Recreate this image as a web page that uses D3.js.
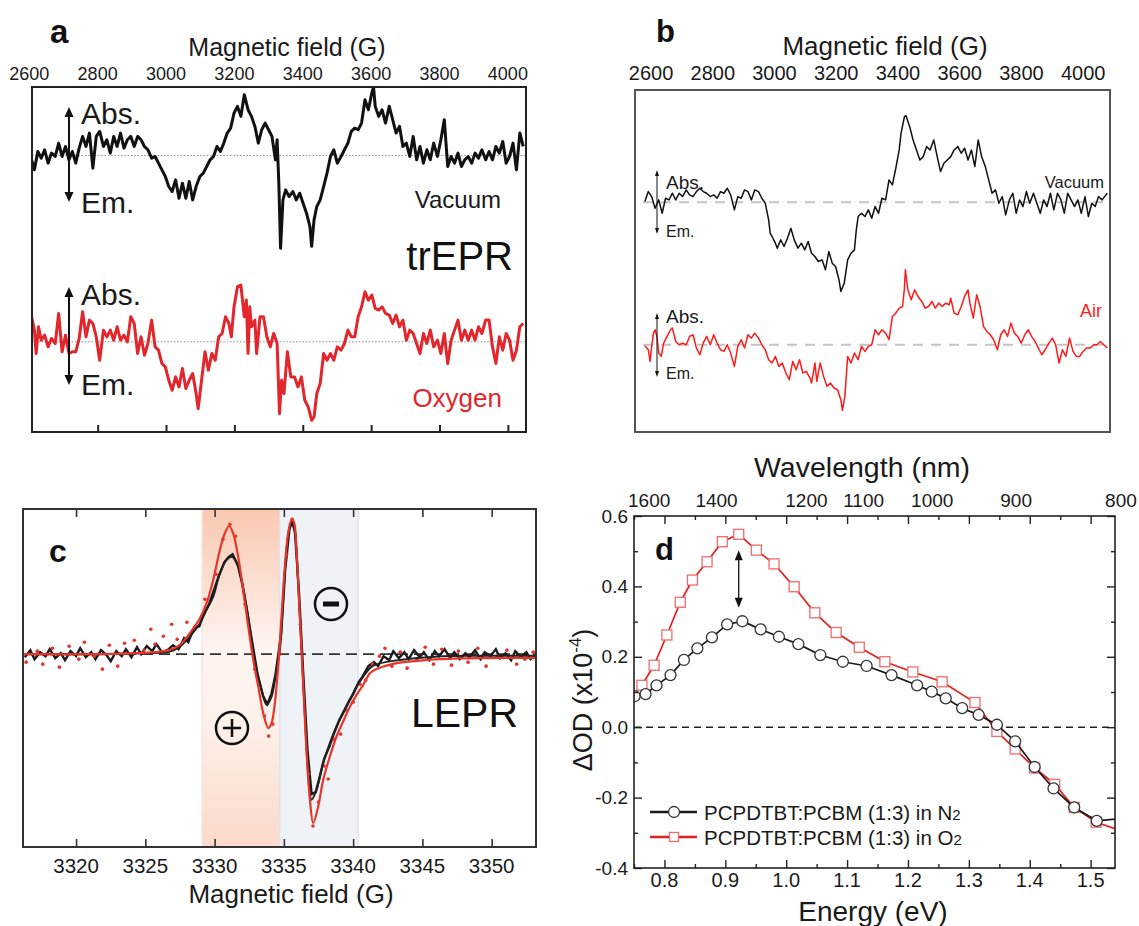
<!DOCTYPE html>
<html>
<head>
<meta charset="utf-8">
<script src="https://cdn.jsdelivr.net/npm/d3@7"></script>
<style>
  body { margin: 0; background: #fff; overflow: hidden; }
  svg { display: block; font-family: "Liberation Sans", Arial, Helvetica, sans-serif; }
</style>
</head>
<body>
<div id="chart"></div>
<script>
// ---- tick labels ----
const fieldTicksAB = [2600, 2800, 3000, 3200, 3400, 3600, 3800, 4000];
const fieldTicksC = [3320, 3325, 3330, 3335, 3340, 3345, 3350];
const energyTicks = [0.8, 0.9, 1.0, 1.1, 1.2, 1.3, 1.4, 1.5];
const energyMinor = [0.75, 0.85, 0.95, 1.05, 1.15, 1.25, 1.35, 1.45];
const wavelengthTicks = [1600, 1400, 1200, 1100, 1000, 900, 800];
const odTicks = [0.6, 0.4, 0.2, 0.0, -0.2, -0.4];
const odMinor = [0.5, 0.3, 0.1, -0.1, -0.3];

// ---- panel a: trEPR, [field G, signal a.u.] ----
const aVacuum = [[2607,-13],[2615,-43],[2625,12],[2635,-8],[2645,17],[2655,-23],[2665,7],[2676,-3],[2686,37],[2696,-3],[2706,27],[2716,-13],[2726,12],[2736,-23],[2746,22],[2756,57],[2766,27],[2776,67],[2786,-38],[2796,57],[2806,72],[2817,27],[2827,47],[2837,7],[2847,57],[2857,27],[2867,67],[2877,22],[2887,47],[2897,57],[2907,27],[2917,57],[2927,47],[2937,27],[2947,17],[2958,-8],[2968,-3],[2978,-23],[2988,-43],[2998,-63],[3008,-93],[3018,-108],[3028,-73],[3038,-128],[3048,-83],[3058,-128],[3068,-78],[3078,-133],[3088,-93],[3099,-63],[3109,-53],[3119,-33],[3129,-13],[3139,-3],[3149,27],[3159,12],[3169,37],[3179,67],[3189,82],[3199,127],[3209,147],[3219,117],[3229,182],[3240,137],[3250,117],[3260,87],[3270,37],[3280,77],[3290,97],[3300,77],[3310,57],[3320,-13],[3325,47],[3330,-83],[3335,-278],[3342,-133],[3350,-103],[3360,-123],[3371,-108],[3381,-133],[3391,-113],[3401,-143],[3411,-173],[3421,-213],[3426,-272],[3433,-193],[3441,-153],[3451,-133],[3461,-93],[3471,-53],[3481,-3],[3491,17],[3501,-23],[3512,-3],[3522,17],[3532,37],[3542,72],[3552,82],[3562,77],[3572,97],[3582,167],[3592,137],[3602,187],[3607,205],[3612,147],[3622,117],[3632,137],[3642,97],[3653,147],[3663,107],[3673,67],[3683,87],[3693,27],[3703,37],[3713,-3],[3723,57],[3733,-13],[3743,27],[3753,-23],[3763,17],[3773,-13],[3783,37],[3794,-3],[3804,47],[3814,107],[3824,-33],[3834,-3],[3844,-23],[3854,7],[3864,-33],[3874,-13],[3884,-3],[3894,-23],[3904,7],[3914,-8],[3924,17],[3935,-13],[3945,12],[3955,-13],[3965,27],[3975,7],[3985,42],[3995,-23],[4005,-3],[4015,37],[4025,-43],[4035,67],[4045,27]];
const aOxygen = [[2607,75],[2615,35],[2620,-35],[2627,45],[2635,5],[2645,20],[2655,-15],[2665,10],[2676,-5],[2686,85],[2696,-30],[2706,20],[2716,-35],[2726,-30],[2736,-30],[2746,10],[2756,90],[2766,15],[2776,65],[2786,55],[2796,15],[2806,-55],[2817,35],[2827,15],[2837,35],[2847,5],[2857,45],[2867,5],[2877,20],[2887,0],[2897,75],[2907,55],[2917,-35],[2927,15],[2937,-40],[2947,-5],[2958,65],[2968,-15],[2978,-25],[2988,-65],[2998,-75],[3008,-115],[3018,-145],[3028,-105],[3038,-135],[3048,-80],[3058,-140],[3068,-115],[3078,-95],[3088,-155],[3094,-200],[3104,-115],[3114,-30],[3124,-85],[3134,-35],[3144,-55],[3154,15],[3164,25],[3174,75],[3184,55],[3191,15],[3199,105],[3209,165],[3219,170],[3229,75],[3235,125],[3240,-35],[3245,105],[3250,45],[3260,65],[3265,-35],[3275,75],[3285,75],[3295,15],[3305,-15],[3315,25],[3325,-5],[3332,-215],[3338,-115],[3345,-155],[3355,-30],[3365,-105],[3376,-105],[3386,-135],[3396,-105],[3406,-175],[3416,-195],[3426,-235],[3433,-225],[3441,-155],[3451,-125],[3461,-35],[3471,-55],[3481,-35],[3491,-55],[3501,-15],[3512,-25],[3522,-5],[3532,35],[3542,15],[3552,15],[3562,75],[3572,105],[3582,150],[3592,125],[3602,140],[3612,100],[3622,95],[3632,105],[3642,85],[3653,80],[3663,55],[3673,80],[3683,45],[3693,65],[3703,5],[3713,35],[3723,25],[3733,-5],[3743,-35],[3753,25],[3763,-5],[3773,35],[3783,-15],[3794,5],[3804,-35],[3814,25],[3824,-65],[3834,5],[3844,35],[3854,65],[3864,5],[3874,35],[3884,5],[3894,35],[3904,5],[3914,45],[3924,25],[3935,65],[3945,65],[3955,-15],[3965,-65],[3975,15],[3985,-25],[3995,25],[4005,5],[4015,-55],[4025,-25],[4035,45],[4045,55]];

// ---- panel b: [field G, signal a.u.] ----
const bVacuum = [[2580,2],[2591,32],[2602,17],[2613,-18],[2625,7],[2636,-33],[2647,12],[2658,7],[2669,27],[2680,7],[2691,27],[2702,17],[2714,37],[2725,22],[2736,17],[2747,32],[2758,42],[2769,32],[2780,27],[2792,17],[2803,22],[2814,12],[2825,32],[2836,27],[2847,42],[2858,22],[2870,-23],[2881,17],[2892,12],[2903,37],[2914,32],[2925,7],[2936,37],[2948,32],[2959,12],[2970,-3],[2981,-53],[2986,-93],[2992,-103],[3003,-123],[3009,-138],[3020,-113],[3031,-133],[3042,-108],[3053,-78],[3064,-113],[3076,-138],[3087,-123],[3098,-143],[3109,-118],[3120,-153],[3131,-163],[3142,-178],[3154,-173],[3165,-203],[3176,-148],[3187,-183],[3198,-193],[3209,-233],[3215,-268],[3226,-243],[3237,-173],[3248,-153],[3259,-143],[3265,-83],[3271,-43],[3282,-33],[3293,-43],[3304,-23],[3315,-48],[3326,-13],[3337,-33],[3348,12],[3360,7],[3371,67],[3382,52],[3393,102],[3404,157],[3410,207],[3421,257],[3426,260],[3438,227],[3449,187],[3460,157],[3471,127],[3482,137],[3493,167],[3504,157],[3516,187],[3527,137],[3538,92],[3549,117],[3560,127],[3571,137],[3582,157],[3594,167],[3605,147],[3616,162],[3627,127],[3638,157],[3649,107],[3660,187],[3671,137],[3683,107],[3694,67],[3705,27],[3716,37],[3727,-3],[3738,17],[3749,-38],[3761,7],[3772,27],[3783,-33],[3794,7],[3805,-13],[3816,32],[3827,-3],[3839,27],[3850,-3],[3861,-33],[3872,7],[3883,-13],[3894,27],[3905,-23],[3917,27],[3928,7],[3939,-33],[3950,27],[3961,7],[3972,-13],[3983,7],[3994,-33],[4006,17],[4017,-43],[4028,-3],[4039,-13],[4050,17],[4061,7],[4078,27]];
const bAir = [[2580,-3],[2591,-15],[2597,-50],[2602,-5],[2608,35],[2613,45],[2619,25],[2625,-25],[2633,-35],[2641,5],[2652,25],[2663,45],[2669,50],[2680,10],[2691,0],[2702,5],[2714,0],[2725,25],[2736,30],[2747,-10],[2758,-30],[2769,5],[2780,25],[2792,0],[2803,30],[2814,5],[2825,-15],[2836,-20],[2847,0],[2858,-25],[2870,-65],[2881,-5],[2892,15],[2903,-10],[2914,30],[2925,20],[2936,35],[2948,20],[2959,0],[2970,-15],[2981,-45],[2992,-55],[3003,-35],[3014,-65],[3025,-55],[3037,-85],[3048,-105],[3059,-50],[3070,-75],[3081,-45],[3092,-85],[3103,-80],[3115,-100],[3120,-115],[3131,-55],[3137,-110],[3148,-55],[3159,-95],[3170,-125],[3181,-115],[3193,-130],[3204,-135],[3215,-165],[3220,-197],[3228,-155],[3237,-35],[3248,-55],[3259,-25],[3271,-45],[3282,-5],[3293,-20],[3304,-5],[3315,0],[3326,45],[3337,30],[3348,45],[3360,35],[3371,15],[3382,85],[3393,95],[3404,110],[3415,115],[3421,170],[3424,225],[3432,165],[3443,135],[3454,165],[3465,145],[3477,130],[3488,110],[3499,115],[3510,130],[3521,110],[3532,125],[3543,115],[3555,125],[3566,120],[3571,140],[3582,95],[3594,90],[3605,115],[3616,145],[3627,165],[3633,125],[3644,80],[3655,150],[3666,115],[3677,55],[3688,40],[3699,30],[3710,15],[3722,-15],[3733,30],[3744,45],[3755,25],[3766,65],[3777,35],[3788,25],[3799,5],[3811,30],[3822,45],[3833,25],[3844,10],[3855,-10],[3866,-30],[3877,-15],[3889,5],[3900,20],[3911,0],[3922,-55],[3933,-15],[3944,-35],[3956,20],[3967,-20],[3978,-35],[3989,-35],[4000,-20],[4011,-10],[4022,-10],[4034,0],[4045,0],[4056,10],[4067,0],[4078,-10]];

// ---- panel c: LEPR, [field G, signal a.u.] ----
const cFitBlack = [[3316.2,0],[3321.7,0],[3324.6,0.01],[3326.05,0.015],[3326.77,0.026],[3327.49,0.076],[3328.21,0.176],[3328.94,0.31],[3329.42,0.443],[3329.9,0.576],[3330.38,0.81],[3330.86,0.943],[3331.22,0.976],[3331.58,0.926],[3331.95,0.743],[3332.31,0.476],[3332.67,0.143],[3333.03,-0.157],[3333.39,-0.357],[3333.75,-0.507],[3334.11,-0.424],[3334.47,-0.157],[3334.71,0.043],[3334.95,0.543],[3335.19,1.043],[3335.43,1.276],[3335.63,1.316],[3335.79,1.243],[3336.03,0.71],[3336.28,0.043],[3336.52,-0.624],[3336.75,-1.19],[3337,-1.457],[3337.36,-1.357],[3337.84,-1.09],[3338.32,-0.89],[3338.8,-0.724],[3339.28,-0.59],[3339.77,-0.457],[3340.25,-0.324],[3340.73,-0.224],[3341.21,-0.14],[3341.57,-0.107],[3342.87,-0.067],[3345.4,-0.03],[3348,-0.017],[3353.2,-0.017]];
const cFitRed = [[3316.2,0],[3321.7,0],[3324.6,0.01],[3326.05,0.025],[3326.77,0.043],[3327.49,0.093],[3328.21,0.21],[3328.94,0.36],[3329.42,0.51],[3329.9,0.743],[3330.38,1.043],[3330.74,1.21],[3331.05,1.283],[3331.34,1.21],[3331.7,0.976],[3332.06,0.643],[3332.43,0.276],[3332.79,-0.057],[3333.15,-0.324],[3333.51,-0.59],[3333.87,-0.74],[3334.11,-0.69],[3334.35,-0.49],[3334.59,-0.124],[3334.83,0.376],[3335.07,0.876],[3335.31,1.21],[3335.55,1.343],[3335.72,1.326],[3335.91,1.043],[3336.15,0.376],[3336.39,-0.29],[3336.63,-0.957],[3336.88,-1.457],[3337.12,-1.69],[3337.48,-1.524],[3337.84,-1.257],[3338.32,-1.024],[3338.8,-0.824],[3339.28,-0.674],[3339.77,-0.524],[3340.25,-0.407],[3340.73,-0.307],[3341.21,-0.19],[3341.57,-0.157],[3342.87,-0.097],[3345.4,-0.057],[3348,-0.042],[3353.2,-0.037]];
const cRawBlack = [[3316.3,-0.03],[3316.7,0.04],[3317.0,-0.05],[3317.4,0.02],[3317.8,-0.02],[3318.1,0.05],[3318.5,-0.04],[3318.9,0.01],[3319.2,-0.06],[3319.6,0.03],[3320.0,-0.02],[3320.3,0.06],[3320.7,-0.03],[3321.1,0.02],[3321.4,-0.05],[3321.8,0.04],[3322.2,-0.01],[3322.5,-0.07],[3322.9,0.03],[3323.3,-0.02],[3323.6,0.05],[3324.0,-0.03],[3324.4,0.07],[3324.7,0.0],[3325.1,0.08],[3325.5,0.03],[3325.8,0.1],[3326.2,0.02],[3326.6,0.04],[3327.0,0.09],[3327.4,0.05],[3327.8,0.16],[3328.1,0.12],[3328.5,0.26],[3328.9,0.28],[3329.2,0.4],[3329.6,0.5],[3330.0,0.66],[3330.3,0.78],[3330.7,0.92],[3331.0,0.97],[3331.3,1.0],[3331.7,0.88],[3332.0,0.7],[3332.4,0.38],[3332.8,0.05],[3333.1,-0.2],[3333.5,-0.42],[3333.8,-0.5],[3334.1,-0.4],[3334.4,-0.2],[3334.8,0.2],[3335.1,0.85],[3335.4,1.25],[3335.6,1.33],[3335.8,1.22],[3336.1,0.6],[3336.4,-0.2],[3336.7,-0.95],[3337.0,-1.4],[3337.3,-1.38],[3337.6,-1.22],[3337.9,-1.05],[3338.3,-0.92],[3338.6,-0.8],[3339.0,-0.66],[3339.3,-0.58],[3339.7,-0.47],[3340.0,-0.4],[3340.4,-0.28],[3340.7,-0.22],[3341.1,-0.12],[3341.5,-0.08],[3341.8,-0.12],[3342.2,-0.02],[3342.6,-0.06],[3342.9,0.03],[3343.3,-0.04],[3343.7,0.02],[3344.0,-0.05],[3344.4,0.04],[3344.8,-0.03],[3345.1,0.02],[3345.5,-0.06],[3345.9,0.03],[3346.2,-0.02],[3346.6,0.05],[3347.0,-0.04],[3347.3,0.02],[3347.7,-0.05],[3348.1,0.01],[3348.4,-0.03],[3348.8,0.04],[3349.2,-0.05],[3349.5,0.02],[3349.9,-0.02],[3350.3,0.05],[3350.6,-0.04],[3351.0,0.01],[3351.4,-0.06],[3351.7,0.03],[3352.1,-0.03],[3352.5,0.02],[3352.8,-0.05],[3353.1,-0.01]];
const cRawRed = [[3316.4,-0.08],[3317.2,0.03],[3317.6,-0.1],[3318.3,0.06],[3318.8,-0.13],[3319.5,0.08],[3320.2,-0.05],[3320.6,0.12],[3321.3,-0.02],[3321.9,-0.15],[3322.4,0.09],[3323.0,-0.12],[3323.5,0.11],[3324.2,0.14],[3324.9,0.04],[3325.4,0.25],[3325.7,0.1],[3326.3,0.18],[3326.9,0.3],[3327.3,0.15],[3328.0,0.32],[3328.6,0.28],[3329.3,0.55],[3330.1,0.8],[3330.6,1.15],[3331.1,1.3],[3331.5,1.18],[3332.2,0.5],[3332.9,-0.15],[3333.6,-0.62],[3333.9,-0.82],[3334.2,-0.7],[3334.7,0.0],[3335.2,1.0],[3335.6,1.35],[3336.2,0.3],[3336.8,-1.2],[3337.1,-1.72],[3337.5,-1.48],[3337.9,-1.12],[3338.2,-1.25],[3338.6,-0.85],[3339.1,-0.8],[3339.5,-0.56],[3340.0,-0.48],[3340.5,-0.3],[3340.9,-0.26],[3341.4,-0.1],[3341.9,-0.02],[3342.3,0.06],[3342.8,-0.12],[3343.4,0.02],[3343.9,-0.14],[3344.6,-0.05],[3345.2,0.07],[3345.8,-0.1],[3346.4,0.05],[3347.1,-0.11],[3347.6,0.03],[3348.3,-0.08],[3349.0,0.06],[3349.6,-0.12],[3350.4,-0.02],[3351.1,0.04],[3351.8,-0.1],[3352.4,-0.05],[3353.0,0.02]];

// ---- panel d: transient absorption, energy (eV) vs dOD (x1e-4) ----
const n2Energy = [0.751,0.769,0.787,0.810,0.832,0.854,0.878,0.903,0.928,0.958,0.988,1.020,1.056,1.093,1.132,1.173,1.215,1.239,1.262,1.289,1.316,1.346,1.376,1.408,1.439,1.473,1.510];
const n2DeltaOD = [0.088,0.094,0.119,0.148,0.191,0.224,0.255,0.292,0.301,0.278,0.257,0.236,0.205,0.186,0.174,0.148,0.119,0.101,0.082,0.054,0.035,0.007,-0.040,-0.113,-0.174,-0.228,-0.266];
const o2Energy = [0.763,0.783,0.804,0.826,0.846,0.870,0.895,0.922,0.951,0.980,1.013,1.047,1.082,1.120,1.162,1.208,1.256,1.310,1.346,1.376,1.408,1.441,1.473,1.509];
const o2DeltaOD = [0.119,0.176,0.262,0.355,0.418,0.470,0.527,0.548,0.503,0.464,0.399,0.325,0.269,0.227,0.186,0.157,0.129,0.070,-0.012,-0.062,-0.116,-0.162,-0.228,-0.270];
// line continues to the frame edge past the last marker
const n2Tail = [1.54, -0.261];
const o2Tail = [1.54, -0.288];

const A_OXYGEN_OFFSET = -558;
const B_AIR_OFFSET = -428;

const W = 1139, H = 926;
const svg = d3.select("#chart").append("svg").attr("width", W).attr("height", H);
svg.append("rect").attr("width", W).attr("height", H).attr("fill", "#fff");
const defs = svg.append("defs");

function clipRect(id, x0, y0, x1, y1) {
  defs.append("clipPath").attr("id", id).append("rect")
    .attr("x", x0).attr("y", y0).attr("width", x1 - x0).attr("height", y1 - y0);
  return `url(#${id})`;
}

function txt(g, x, y, s, size, anchor = "start", fill = "#1a1a1a", weight = "normal") {
  return g.append("text").attr("x", x).attr("y", y).attr("font-size", size)
    .attr("text-anchor", anchor).attr("fill", fill).attr("font-weight", weight).text(s);
}

function doubleArrow(g, x, y1, y2, hw, hh, sw, color) {
  g.append("line").attr("x1", x).attr("x2", x).attr("y1", y1 + hh * 0.7).attr("y2", y2 - hh * 0.7)
    .attr("stroke", color).attr("stroke-width", sw);
  g.append("path").attr("d", `M${x},${y1}L${x - hw / 2},${y1 + hh}L${x + hw / 2},${y1 + hh}Z`).attr("fill", color);
  g.append("path").attr("d", `M${x},${y2}L${x - hw / 2},${y2 - hh}L${x + hw / 2},${y2 - hh}Z`).attr("fill", color);
}

function tickAxis(g, gen, transform, sw, color) {
  const a = g.append("g").attr("transform", transform).call(gen);
  a.select(".domain").remove();
  a.selectAll("line").attr("stroke", color).attr("stroke-width", sw);
  return a;
}

// ================= panel a =================
function drawPanelA() {
  const left = 32, right = 526, top = 87, bottom = 432;
  const x = d3.scaleLinear().domain([2608, 4053]).range([left, right]);
  const y = d3.scaleLinear().domain([-828, 205]).range([bottom, top]);
  const g = svg.append("g");
  const cp = clipRect("clipA", left, top, right, bottom);

  [0, A_OXYGEN_OFFSET].forEach(off => {
    g.append("line").attr("x1", left).attr("x2", right).attr("y1", y(off)).attr("y2", y(off))
      .attr("stroke", "#8a8a8a").attr("stroke-width", 1).attr("stroke-dasharray", "1.5,1.8");
  });

  [{ data: aVacuum, off: 0, color: "#111" }, { data: aOxygen, off: A_OXYGEN_OFFSET, color: "#e3262b" }]
    .forEach(t => {
      g.append("path").datum(t.data).attr("clip-path", cp)
        .attr("fill", "none").attr("stroke", t.color).attr("stroke-width", 3)
        .attr("stroke-linejoin", "round")
        .attr("d", d3.line().x(d => x(d[0])).y(d => y(d[1] + t.off)));
    });

  g.append("rect").attr("x", left).attr("y", top).attr("width", right - left).attr("height", bottom - top)
    .attr("fill", "none").attr("stroke", "#222").attr("stroke-width", 2);

  tickAxis(g, d3.axisBottom(x).tickValues(fieldTicksAB.slice(1)).tickSize(-7).tickFormat(""),
    `translate(0,${bottom})`, 2, "#222");

  g.selectAll(".ta").data(fieldTicksAB).enter().append("text")
    .attr("x", d => x(d)).attr("y", 80).attr("text-anchor", "middle")
    .attr("font-size", 18).attr("fill", "#1a1a1a").text(d => d);

  txt(g, 287, 56, "Magnetic field (G)", 25, "middle");
  txt(g, 50, 43, "a", 33, "start", "#111", "bold");

  doubleArrow(g, 69, 107, 202, 9, 10, 2, "#111");
  doubleArrow(g, 69, 287, 385, 9, 10, 2, "#111");
  txt(g, 81, 124, "Abs.", 30);
  txt(g, 81, 213, "Em.", 30);
  txt(g, 81, 305, "Abs.", 30);
  txt(g, 81, 395, "Em.", 30);
  txt(g, 501, 208, "Vacuum", 24, "end");
  txt(g, 513, 270, "trEPR", 40, "end", "#111");
  txt(g, 502, 407, "Oxygen", 26, "end", "#e3262b");
}

// ================= panel b =================
function drawPanelB() {
  const left = 635, right = 1110, top = 90, bottom = 432;
  const x = d3.scaleLinear().domain([2548, 4087]).range([left, right]);
  const y = d3.scaleLinear().domain([-690, 337]).range([bottom, top]);
  const g = svg.append("g");
  const cp = clipRect("clipB", left, top, right, bottom);

  [0, B_AIR_OFFSET].forEach(off => {
    g.append("line").attr("x1", left + 8).attr("x2", right - 4).attr("y1", y(off)).attr("y2", y(off))
      .attr("stroke", "#c4c4c4").attr("stroke-width", 2).attr("stroke-dasharray", "10,8");
  });

  [{ data: bVacuum, off: 0, color: "#111" }, { data: bAir, off: B_AIR_OFFSET, color: "#ff1a1a" }]
    .forEach(t => {
      g.append("path").datum(t.data).attr("clip-path", cp)
        .attr("fill", "none").attr("stroke", t.color).attr("stroke-width", 1.5)
        .attr("stroke-linejoin", "round")
        .attr("d", d3.line().x(d => x(d[0])).y(d => y(d[1] + t.off)));
    });

  g.append("rect").attr("x", left).attr("y", top).attr("width", right - left).attr("height", bottom - top)
    .attr("fill", "none").attr("stroke", "#555").attr("stroke-width", 2);

  g.selectAll(".tb").data(fieldTicksAB).enter().append("text")
    .attr("x", d => x(d)).attr("y", 80).attr("text-anchor", "middle")
    .attr("font-size", 20).attr("fill", "#1a1a1a").text(d => d);

  txt(g, 885, 55, "Magnetic field (G)", 26, "middle");
  txt(g, 656, 42, "b", 31, "start", "#111", "bold");

  doubleArrow(g, 657, 170, 234, 4, 6, 1, "#111");
  doubleArrow(g, 657, 313, 377, 4, 6, 1, "#111");
  txt(g, 666, 189, "Abs.", 19);
  txt(g, 666, 237, "Em.", 16);
  txt(g, 666, 323, "Abs.", 19);
  txt(g, 666, 379, "Em.", 16);
  txt(g, 1104, 188, "Vacuum", 16.5, "end");
  txt(g, 1102, 317, "Air", 18, "end", "#ff1a1a");
}

// ================= panel c =================
function drawPanelC() {
  const left = 23, right = 536, top = 509, bottom = 847;
  const x = d3.scaleLinear().domain([3316.17, 3353.2]).range([left, right]);
  const y = d3.scaleLinear().domain([-1.93, 1.453]).range([bottom, top]);
  const g = svg.append("g");
  const cp = clipRect("clipC", left, top, right, bottom);

  const grad = defs.append("linearGradient").attr("id", "pinkGrad")
    .attr("x1", 0).attr("y1", 0).attr("x2", 0).attr("y2", 1);
  [["0%", "#f9c8b1"], ["42%", "#fef5f1"], ["62%", "#fdf1eb"], ["100%", "#fbd9ca"]].forEach(s =>
    grad.append("stop").attr("offset", s[0]).attr("stop-color", s[1]));

  const pinkFrom = 3329.1, split = 3334.7, grayTo = 3340.36;
  g.append("rect").attr("x", x(pinkFrom)).attr("y", top).attr("width", x(split) - x(pinkFrom))
    .attr("height", bottom - top).attr("fill", "url(#pinkGrad)");
  g.append("rect").attr("x", x(split)).attr("y", top).attr("width", x(grayTo) - x(split))
    .attr("height", bottom - top).attr("fill", "#eff2f6");
  [pinkFrom, split, grayTo].forEach((v, i) => {
    g.append("line").attr("x1", x(v)).attr("x2", x(v)).attr("y1", top).attr("y2", bottom)
      .attr("stroke", i === 0 ? "#f6e0d6" : "#dde1e8").attr("stroke-width", 1.2);
  });

  g.append("line").attr("x1", left).attr("x2", right).attr("y1", y(0)).attr("y2", y(0))
    .attr("stroke", "#333").attr("stroke-width", 1.6).attr("stroke-dasharray", "11,6");

  const line = d3.line().x(d => x(d[0])).y(d => y(d[1]));
  g.append("path").datum(cRawBlack).attr("clip-path", cp).attr("fill", "none")
    .attr("stroke", "#1b1b1b").attr("stroke-width", 2.4).attr("d", line);
  g.append("g").attr("clip-path", cp).selectAll("circle").data(cRawRed).enter().append("circle")
    .attr("cx", d => x(d[0])).attr("cy", d => y(d[1])).attr("r", 1.8).attr("fill", "#e5342a");
  const smooth = d3.line().curve(d3.curveCatmullRom).x(d => x(d[0])).y(d => y(d[1]));
  g.append("path").datum(cFitBlack).attr("clip-path", cp).attr("fill", "none")
    .attr("stroke", "#222").attr("stroke-width", 2).attr("d", smooth);
  g.append("path").datum(cFitRed).attr("clip-path", cp).attr("fill", "none")
    .attr("stroke", "#e8352b").attr("stroke-width", 2.2).attr("d", smooth);

  g.append("rect").attr("x", left).attr("y", top).attr("width", right - left).attr("height", bottom - top)
    .attr("fill", "none").attr("stroke", "#333").attr("stroke-width", 2);

  tickAxis(g, d3.axisBottom(x).tickValues(fieldTicksC).tickSize(-8).tickFormat(""),
    `translate(0,${bottom})`, 1.6, "#333");
  tickAxis(g, d3.axisTop(x).tickValues(fieldTicksC).tickSize(-8).tickFormat(""),
    `translate(0,${top})`, 1.6, "#333");

  g.selectAll(".tc").data(fieldTicksC).enter().append("text")
    .attr("x", d => x(d)).attr("y", 873).attr("text-anchor", "middle")
    .attr("font-size", 20.5).attr("fill", "#1a1a1a").text(d => d);
  txt(g, 291, 903, "Magnetic field (G)", 26, "middle");

  txt(g, 49, 562, "c", 32, "start", "#111", "bold");
  txt(g, 518, 727, "LEPR", 41, "end", "#111");

  // sign symbols
  g.append("circle").attr("cx", 331).attr("cy", 604).attr("r", 16)
    .attr("fill", "none").attr("stroke", "#111").attr("stroke-width", 2.5);
  g.append("rect").attr("x", 323).attr("y", 601.5).attr("width", 16).attr("height", 5).attr("fill", "#111");
  g.append("circle").attr("cx", 232).attr("cy", 728).attr("r", 16)
    .attr("fill", "none").attr("stroke", "#111").attr("stroke-width", 2.5);
  g.append("path").attr("d", "M223,728H241M232,719V737").attr("stroke", "#111").attr("stroke-width", 2.5);
}

// ================= panel d =================
function drawPanelD() {
  const left = 634, right = 1115, top = 516, bottom = 868;
  const x = d3.scaleLinear().domain([0.75, 1.54]).range([left, right]);
  const y = d3.scaleLinear().domain([-0.4, 0.6]).range([bottom, top]);
  const g = svg.append("g");
  const cp = clipRect("clipD", left, top, right, bottom);

  g.append("line").attr("x1", left).attr("x2", right).attr("y1", y(0)).attr("y2", y(0))
    .attr("stroke", "#222").attr("stroke-width", 1.4).attr("stroke-dasharray", "7,5");

  const o2 = o2Energy.map((e, i) => [e, o2DeltaOD[i]]);
  const n2 = n2Energy.map((e, i) => [e, n2DeltaOD[i]]);
  const line = d3.line().x(d => x(d[0])).y(d => y(d[1]));
  const pg = g.append("g").attr("clip-path", cp);

  pg.append("path").datum(o2.concat([o2Tail])).attr("fill", "none")
    .attr("stroke", "#e3211e").attr("stroke-width", 1.7).attr("d", line);
  pg.selectAll(".sq").data(o2).enter().append("rect")
    .attr("x", d => x(d[0]) - 5).attr("y", d => y(d[1]) - 5).attr("width", 10).attr("height", 10)
    .attr("fill", "#fff").attr("stroke", "#f26a6a").attr("stroke-width", 1.3);

  pg.append("path").datum(n2.concat([n2Tail])).attr("fill", "none")
    .attr("stroke", "#1a1a1a").attr("stroke-width", 1.7).attr("d", line);
  pg.selectAll(".ci").data(n2).enter().append("circle")
    .attr("cx", d => x(d[0])).attr("cy", d => y(d[1])).attr("r", 5.5)
    .attr("fill", "#fff").attr("stroke", "#333").attr("stroke-width", 1.3);

  doubleArrow(g, x(0.922), y(0.503), y(0.339), 8, 10, 1.3, "#111");

  g.append("rect").attr("x", left).attr("y", top).attr("width", right - left).attr("height", bottom - top)
    .attr("fill", "none").attr("stroke", "#222").attr("stroke-width", 1.6);

  // ticks on all four sides, pointing inward
  tickAxis(g, d3.axisBottom(x).tickValues(energyTicks).tickSize(-8).tickFormat(""), `translate(0,${bottom})`, 1.4, "#222");
  tickAxis(g, d3.axisBottom(x).tickValues(energyMinor).tickSize(-4).tickFormat(""), `translate(0,${bottom})`, 1.4, "#222");
  tickAxis(g, d3.axisTop(x).tickValues(energyTicks).tickSize(-8).tickFormat(""), `translate(0,${top})`, 1.4, "#222");
  tickAxis(g, d3.axisTop(x).tickValues(energyMinor).tickSize(-4).tickFormat(""), `translate(0,${top})`, 1.4, "#222");
  tickAxis(g, d3.axisLeft(y).tickValues(odTicks).tickSize(-8).tickFormat(""), `translate(${left},0)`, 1.4, "#222");
  tickAxis(g, d3.axisLeft(y).tickValues(odMinor).tickSize(-4).tickFormat(""), `translate(${left},0)`, 1.4, "#222");
  tickAxis(g, d3.axisRight(y).tickValues(odTicks).tickSize(-8).tickFormat(""), `translate(${right},0)`, 1.4, "#222");
  tickAxis(g, d3.axisRight(y).tickValues(odMinor).tickSize(-4).tickFormat(""), `translate(${right},0)`, 1.4, "#222");

  g.selectAll(".tx").data(energyTicks).enter().append("text")
    .attr("x", d => x(d)).attr("y", 887).attr("text-anchor", "middle")
    .attr("font-size", 20).attr("fill", "#1a1a1a").text(d => d.toFixed(1));
  g.selectAll(".ty").data(odTicks).enter().append("text")
    .attr("x", left - 6).attr("y", d => y(d)).attr("dy", "0.35em").attr("text-anchor", "end")
    .attr("font-size", 19).attr("fill", "#1a1a1a").text(d => d.toFixed(1));
  g.selectAll(".tw").data(wavelengthTicks).enter().append("text")
    .attr("x", d => x(1239.84 / d)).attr("y", 507).attr("text-anchor", "middle")
    .attr("font-size", 19).attr("fill", "#1a1a1a").text(d => d);

  txt(g, 862, 477, "Wavelength (nm)", 28.5, "middle");
  txt(g, 873, 921, "Energy (eV)", 28, "middle");

  const yl = g.append("text").attr("transform", "translate(592,700) rotate(-90)")
    .attr("text-anchor", "middle").attr("font-size", 27).attr("fill", "#1a1a1a");
  yl.append("tspan").text("\u0394OD (x10");
  yl.append("tspan").attr("font-size", 17).attr("dy", -11).text("-4");
  yl.append("tspan").attr("dy", 11).text(")");

  txt(g, 655, 560, "d", 31, "start", "#111", "bold");

  // legend
  const legend = [
    { label: "PCPDTBT:PCBM (1:3) in N", sub: "2", color: "#1a1a1a", mark: "circle", y: 812 },
    { label: "PCPDTBT:PCBM (1:3) in O", sub: "2", color: "#e3211e", mark: "square", y: 837 }
  ];
  legend.forEach(l => {
    g.append("line").attr("x1", 650).attr("x2", 697).attr("y1", l.y).attr("y2", l.y)
      .attr("stroke", l.color).attr("stroke-width", 2.6);
    if (l.mark === "circle") {
      g.append("circle").attr("cx", 674).attr("cy", l.y).attr("r", 5.5)
        .attr("fill", "#fff").attr("stroke", "#333").attr("stroke-width", 1.3);
    } else {
      g.append("rect").attr("x", 669.5).attr("y", l.y - 4.5).attr("width", 9).attr("height", 9)
        .attr("fill", "#fff").attr("stroke", "#f26a6a").attr("stroke-width", 1.3);
    }
    const t = g.append("text").attr("x", 704).attr("y", l.y + 7.5).attr("font-size", 20.5).attr("fill", "#1a1a1a");
    t.append("tspan").text(l.label);
    t.append("tspan").attr("font-size", 15).text(l.sub);
  });
}

drawPanelA();
drawPanelB();
drawPanelC();
drawPanelD();
</script>
</body>
</html>
